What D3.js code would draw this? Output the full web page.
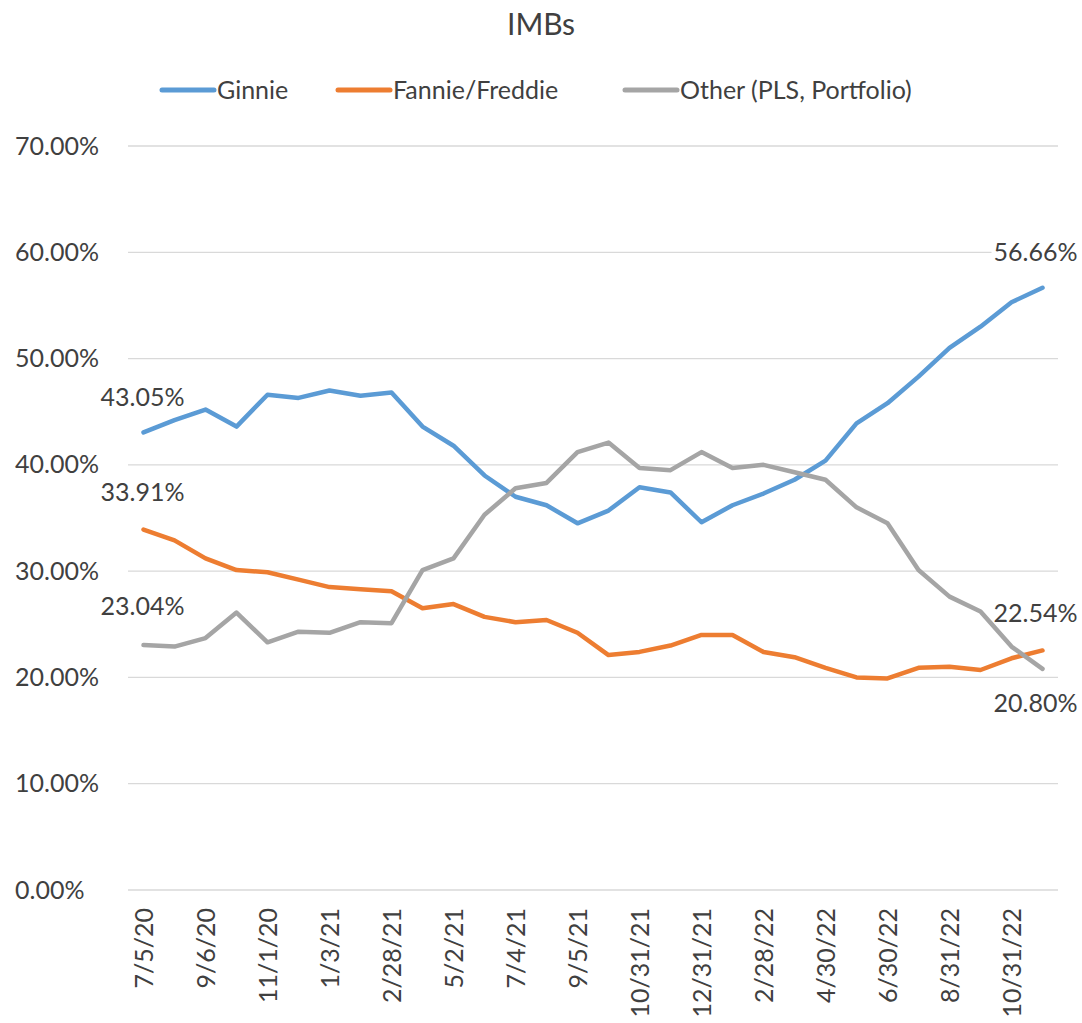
<!DOCTYPE html>
<html>
<head>
<meta charset="utf-8">
<script src="https://cdn.jsdelivr.net/npm/d3@7"></script>
<style>
  body { margin: 0; background: #fff; }
  svg text { font-family: Lato, "Open Sans", sans-serif; fill: #404040; }
</style>
</head>
<body>
<div id="chart"></div>
<script>
const dates = ["7/5/20", "8/2/20", "9/6/20", "10/4/20", "11/1/20", "12/6/20", "1/3/21", "1/31/21",
  "2/28/21", "4/4/21", "5/2/21", "6/6/21", "7/4/21", "8/1/21", "9/5/21", "10/3/21",
  "10/31/21", "11/30/21", "12/31/21", "1/31/22", "2/28/22", "3/31/22", "4/30/22", "5/31/22",
  "6/30/22", "7/31/22", "8/31/22", "9/30/22", "10/31/22", "11/30/22"];

const ginnie = [43.05, 44.2, 45.2, 43.6, 46.6, 46.3, 47.0, 46.5, 46.8, 43.6,
  41.8, 39.0, 37.0, 36.2, 34.5, 35.7, 37.9, 37.4, 34.6, 36.2,
  37.3, 38.6, 40.4, 43.9, 45.8, 48.3, 51.0, 53.0, 55.3, 56.66];

const fannieFreddie = [33.91, 32.9, 31.2, 30.1, 29.9, 29.2, 28.5, 28.3, 28.1, 26.5,
  26.9, 25.7, 25.2, 25.4, 24.2, 22.1, 22.4, 23.0, 24.0, 24.0,
  22.4, 21.9, 20.9, 20.0, 19.9, 20.9, 21.0, 20.7, 21.8, 22.54];

const other = [23.04, 22.9, 23.7, 26.1, 23.3, 24.3, 24.2, 25.2, 25.1, 30.1,
  31.2, 35.3, 37.8, 38.3, 41.2, 42.1, 39.7, 39.5, 41.2, 39.7,
  40.0, 39.3, 38.6, 36.0, 34.5, 30.1, 27.6, 26.2, 22.9, 20.80];

const seriesNames = ["Ginnie", "Fannie/Freddie", "Other (PLS, Portfolio)"];
const seriesColors = ["#5B9BD5", "#ED7D31", "#A5A5A5"];
const yTicks = [0, 10, 20, 30, 40, 50, 60, 70];

const series = [ginnie, fannieFreddie, other].map((vals, i) => ({
  name: seriesNames[i],
  color: seriesColors[i],
  values: vals
}));

const W = 1082, H = 1023;
const plot = { left: 128, right: 1058, top: 146, bottom: 890 };
const fontSize = "25px";

const svg = d3.select("#chart")
  .append("svg")
  .attr("width", W)
  .attr("height", H);

const x = d3.scalePoint()
  .domain(dates)
  .range([plot.left, plot.right])
  .padding(0.5);

const y = d3.scaleLinear()
  .domain([0, 70])
  .range([plot.bottom, plot.top]);

// gridlines
svg.append("g")
  .selectAll("line")
  .data(yTicks)
  .enter()
  .append("line")
  .attr("x1", plot.left)
  .attr("x2", plot.right)
  .attr("y1", d => y(d))
  .attr("y2", d => y(d))
  .attr("stroke", "#D9D9D9")
  .attr("stroke-width", 1.3);

// y axis labels
const yAxis = svg.append("g")
  .attr("transform", `translate(${plot.left - 22},0)`)
  .call(d3.axisLeft(y).tickValues(yTicks).tickFormat(d => d.toFixed(2) + "%").tickSize(0));
yAxis.select(".domain").remove();
yAxis.selectAll("text")
  .attr("font-size", fontSize)
  .attr("text-anchor", "start")
  .attr("x", 15 - (plot.left - 22));

// x axis labels (every other date)
const xAxis = svg.append("g")
  .attr("transform", `translate(0,${plot.bottom})`)
  .call(d3.axisBottom(x).tickValues(dates.filter((d, i) => i % 2 === 0)).tickSize(0));
xAxis.select(".domain").remove();
xAxis.selectAll("text")
  .attr("font-size", fontSize)
  .attr("text-anchor", "end")
  .attr("transform", "rotate(-90)")
  .attr("x", -18)
  .attr("y", 0)
  .attr("dy", "0.35em");

// data labels at first and last points (opaque, under the lines)
const fmt = v => v.toFixed(2) + "%";
const last = dates.length - 1;
const dataLabels = [
  { s: 0, i: 0, dx: -43, dy: -35 },
  { s: 1, i: 0, dx: -43, dy: -37 },
  { s: 2, i: 0, dx: -43, dy: -39 },
  { s: 0, i: last, dx: -49, dy: -36 },
  { s: 1, i: last, dx: -49, dy: -37 },
  { s: 2, i: last, dx: -49, dy: 34 }
];
const labelG = svg.append("g")
  .selectAll("g")
  .data(dataLabels)
  .enter()
  .append("g")
  .attr("transform", d => `translate(${x(dates[d.i]) + d.dx},${y(series[d.s].values[d.i]) + d.dy})`);
labelG.append("rect")
  .attr("x", -2)
  .attr("y", -13)
  .attr("width", 90)
  .attr("height", 26)
  .attr("fill", "#fff");
labelG.append("text")
  .attr("dy", "0.35em")
  .attr("font-size", fontSize)
  .text(d => fmt(series[d.s].values[d.i]));

// lines
const line = d3.line()
  .x((d, i) => x(dates[i]))
  .y(d => y(d));

series.forEach(s => {
  svg.append("path")
    .attr("fill", "none")
    .attr("stroke", s.color)
    .attr("stroke-width", 4.5)
    .attr("stroke-linejoin", "round")
    .attr("stroke-linecap", "round")
    .attr("d", line(s.values));
});

// title
svg.append("text")
  .attr("x", 541)
  .attr("y", 35)
  .attr("text-anchor", "middle")
  .attr("font-size", "30px")
  .text("IMBs");

// legend
const legendX = [162, 338, 625];
const legend = svg.append("g");
series.forEach((s, i) => {
  legend.append("line")
    .attr("x1", legendX[i])
    .attr("x2", legendX[i] + 52)
    .attr("y1", 90)
    .attr("y2", 90)
    .attr("stroke", s.color)
    .attr("stroke-width", 5)
    .attr("stroke-linecap", "round");
  legend.append("text")
    .attr("x", legendX[i] + 55)
    .attr("y", 90)
    .attr("dy", "0.35em")
    .attr("font-size", fontSize)
    .text(s.name);
});
</script>
</body>
</html>
